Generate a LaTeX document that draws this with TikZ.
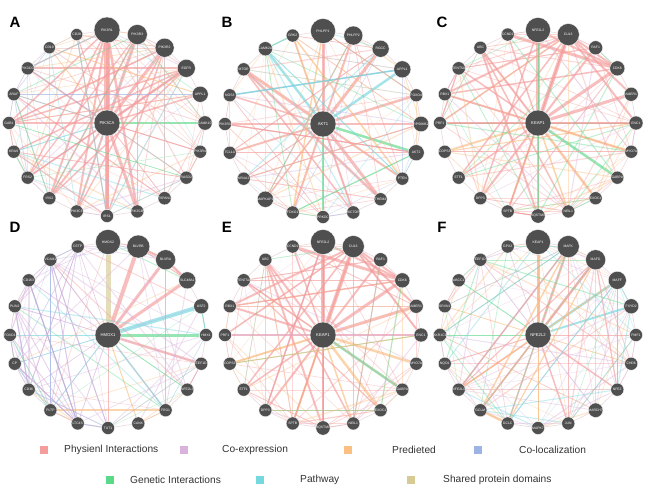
\documentclass[tikz,border=0pt]{standalone}
\usepackage{fontspec}
\setmainfont{Liberation Sans}
\usetikzlibrary{positioning, backgrounds}

\definecolor{phys}{HTML}{F59C9C}
\definecolor{coexp}{HTML}{D9B3DC}
\definecolor{pred}{HTML}{FBBF82}
\definecolor{coloc}{HTML}{9CB3E3}
\definecolor{genet}{HTML}{5BD98A}
\definecolor{pathw}{HTML}{74D8DE}
\definecolor{shared}{HTML}{D8CA95}
\definecolor{nodegray}{HTML}{4F4F4F}
\definecolor{ringgray}{HTML}{EAD9DD}

\pgfmathdeclarerandomlist{palA}{{phys}{phys}{phys}{phys}{pathw}{pathw}{genet}{pred}{pred}{coloc}{coexp}}
\pgfmathdeclarerandomlist{palB}{{phys}{phys}{phys}{pred}{pred}{pathw}{genet}{coexp}{coloc}}
\pgfmathdeclarerandomlist{palC}{{phys}{phys}{phys}{phys}{phys}{pred}{pred}{genet}{coexp}}
\pgfmathdeclarerandomlist{palD}{{coexp}{coexp}{coexp}{coexp}{coloc}{pathw}{genet}{phys}{pred}}
\pgfmathdeclarerandomlist{palDl}{{coexp}{coexp}{coexp}{coloc}}
\pgfmathdeclarerandomlist{palF}{{coexp}{coexp}{phys}{phys}{pred}{pred}{genet}{pathw}}

% ring of genes round a hub node
\newcommand\genering[2]{%
  \foreach \n/\s/\c/\w [count=\i from 0] in {#2} {
    \node[gene, minimum size=\s pt] (#1\i) at ([shift={({98*cos(-90+18*\i)},{93*sin(-90+18*\i)})}]#1c) {\n};
    \begin{scope}[on background layer]
      \draw[hubline, draw=\c, line width=\w pt] (#1c) -- (#1\i);
    \end{scope}
  }
  \begin{scope}[on background layer]
    \foreach \i in {0,...,19} {
      \pgfmathtruncatemacro\j{mod(\i+1,20)}
      \draw[ringline] (#1\i) -- (#1\j);
    }
  \end{scope}}

% strong links between ring genes
\newcommand\heavy[2]{%
  \begin{scope}[on background layer]
    \foreach \a/\b/\c/\w in {#2}
      \draw[hubline, draw=\c, line width=\w pt] (#1\a) -- (#1\b);
  \end{scope}}

% faint mesh: prefix, palette, count, seed, lo, hi
\newcommand\mesh[6]{%
  \begin{scope}[on background layer]
    \pgfmathsetseed{#4}
    \foreach \k in {1,...,#3} {
      \pgfmathtruncatemacro\ia{random(#5,#6)}
      \pgfmathtruncatemacro\ib{#5+mod(\ia-#5+random(1,#6-#5),#6-#5+1)}
      \pgfmathsetmacro\lw{0.3+0.9*rnd}
      \pgfmathrandomitem\cc{#2}
      \draw[meshline, draw=\cc, line width=\lw pt] (#1\ia) -- (#1\ib);
    }
  \end{scope}}

\tikzset{
  gene/.style={circle, draw=white, line width=0.3pt, fill=nodegray, text=white,
    inner sep=0pt, font=\fontsize{3.4}{3.4}\selectfont},
  hub/.style={gene, minimum size=26pt, font=\fontsize{4.2}{4.2}\selectfont},
  hubline/.style={draw opacity=0.65},
  meshline/.style={draw opacity=0.4},
  ringline/.style={draw=ringgray, line width=0.6pt},
  panel/.style={font=\bfseries\fontsize{15}{15}\selectfont, inner sep=0pt},
  legsq/.style={minimum size=8pt, inner sep=0pt},
  legtxt/.style={anchor=west, inner sep=0pt, text=black!80, font=\fontsize{10.2}{12}\selectfont},
}

\begin{document}
\begin{tikzpicture}[x=1pt, y=-1pt]
    \useasboundingbox (0,0) rectangle (654,495);
    \begin{scope}[on background layer]
      \fill[white] (0,0) rectangle (654,495);
    \end{scope}

    % A
    \node[panel] (labA) at (15,22) {A};
    \node[hub] (Ac) at (107,123) {PIK3CA};
    \genering{A}{PIK3R1/26/phys/6, PIK3R3/20/phys/3, PIK3R2/19/phys/3, EGFR/18/phys/2.5,
      APPL1/16/phys/1.5, CAMK1D/14/genet/1.5, PIK3R4/13/phys/1, RASD2/13/pred/0.8,
      TSPAN1/13/phys/0.8, PIK3CB/13/phys/3, IRS1/13/phys/3.5, PIK3C3/13/phys/2,
      IRS2/13/phys/2, FRS2/13/phys/1.5, KRAS/13/pathw/1, GAB1/13/phys/1.5,
      ARAF/13/pathw/0.8, PIK3CG/13/phys/1.5, CD19/12/pred/0.8, CD28/12/phys/1}
    \heavy{A}{0/10/phys/3, 0/9/phys/2.5, 0/11/phys/2, 0/12/phys/2, 0/13/phys/1.5,
      0/15/phys/1.5, 0/17/phys/1.2, 1/12/phys/1.5, 1/9/phys/1.5, 1/13/phys/1.2,
      2/15/phys/1.5, 2/11/phys/1.5, 2/10/phys/1.5, 3/17/phys/2, 3/15/phys/1.5,
      3/14/phys/1.5, 3/13/phys/1.2, 3/12/phys/1.5, 4/16/coloc/1, 4/15/phys/1,
      19/10/pathw/1, 18/4/pred/1}
    \mesh{A}{palA}{90}{11}{0}{19}

    % B
    \node[panel] (labB) at (227,22) {B};
    \node[hub] (Bc) at (323,124) {AKT1};
    \genering{B}{PHLPP1/25/phys/3, PHLPP2/19/phys/2, RGCC/17/phys/3, APPL1/17/pathw/2.5,
      FOXO4/13/phys/2.5, RPS6KB2/13/phys/2.5, AKT2/16/genet/2.5, PTEN/13/phys/2,
      THEM4/13/phys/3, RICTOR/13/phys/2, PRKDC/13/genet/2, FOXO1/13/phys/2,
      MAPKAP1/13/phys/1.5, NR4A1/13/phys/1, TCL1A/13/phys/2, PIK3R3/13/phys/2.5,
      NOS3/13/phys/1.5, MTOR/13/phys/3, CAMK2A/13/pathw/2.5, GRK2/13/pred/2}
    \heavy{B}{17/8/phys/2.5, 17/9/phys/1.5, 19/7/pred/1.5, 0/11/pred/1.5, 1/12/pred/1,
      14/6/phys/1.5, 15/6/phys/1.2, 16/3/coloc/1.2, 18/7/pathw/1, 3/16/pathw/1.5,
      5/13/phys/1, 2/14/phys/1, 6/11/genet/1.2}
    \mesh{B}{palB}{80}{23}{0}{19}

    % C
    \node[panel] (labC) at (442,22) {C};
    \node[hub] (Cc) at (538,123) {KEAP1};
    \genering{C}{NFE2L2/25/phys/4, CUL3/22/phys/4, RAF1/14/phys/2, CDK6/15/phys/3,
      AMER1/14/phys/3, ENC1/14/phys/2.5, MYO7A/13/pred/2.5, GABPA/13/genet/2.5,
      EXOC1/13/pred/2.5, NEIL1/13/pred/1.5, SQSTM1/13/phys/2.5, SPTB/13/pred/2,
      DPP3/13/phys/2, ETF1/13/phys/1.5, COPS3/13/pred/2, PRF1/13/phys/2,
      RBX1/13/phys/2, TENT5A/13/phys/1.5, UBC/13/phys/2, CCND1/13/phys/1.5}
    \heavy{C}{19/3/phys/3, 0/3/phys/2, 1/3/phys/2, 1/4/phys/2, 1/5/phys/2, 1/16/phys/2,
      1/15/phys/1.5, 18/10/phys/2, 18/9/phys/1.5, 0/12/phys/1.5, 16/3/phys/1.5,
      17/2/phys/1, 13/1/phys/1.5, 14/5/pred/1, 0/10/genet/1, 1/11/phys/1.5}
    \mesh{C}{palC}{80}{37}{0}{19}

    % D
    \node[panel] (labD) at (15,227) {D};
    \node[hub] (Dc) at (108,335) {HMOX1};
    \genering{D}{HMOX2/25/shared/5, BLVRB/23/phys/4, BLVRA/20/phys/3, SLC48A1/17/phys/3,
      USF2/15/pathw/4, HMX1/13/genet/3, EEF1D/13/phys/2.5, NFE2L2/13/genet/0.8,
      FRG1/13/pathw/1.5, CANX/13/pred/1, TUT1/13/phys/0.8, LTC4S/13/coexp/0.8,
      PLTP/13/pathw/0.8, CD36/13/coexp/0.6, CP/13/pathw/0.6, FOXO1/13/pathw/0.6,
      PLIN2/13/coexp/0.6, CD163/13/coexp/0.8, VCAM1/13/coexp/0.8, CETP/13/coexp/0.6}
    \heavy{D}{1/2/phys/2.5, 2/3/phys/2.5, 1/3/phys/1, 12/8/pred/1.5, 6/7/phys/0.8,
      18/11/coexp/1, 18/10/coexp/1, 17/11/coexp/1, 19/13/coexp/0.8, 18/12/coloc/0.8,
      16/13/coexp/0.8, 4/5/pathw/1}
    \mesh{D}{palD}{60}{41}{0}{19}
    \mesh{D}{palDl}{45}{43}{10}{19}

    % E
    \node[panel] (labE) at (227,227) {E};
    \node[hub] (Ec) at (323,335) {KEAP1};
    \genering{E}{NFE2L2/25/phys/4, CUL3/22/phys/4, RAF1/14/phys/2, CDK6/15/phys/3,
      AMER1/14/phys/3, ENC1/14/phys/2.5, MYO7A/13/pred/2.5, GABPA/13/genet/2.5,
      EXOC1/13/pred/2.5, NEIL1/13/pred/1.5, SQSTM1/13/phys/2.5, SPTB/13/pred/2,
      DPP3/13/phys/2, ETF1/13/phys/1.5, COPS3/13/pred/2, PRF1/13/phys/2,
      RBX1/13/phys/2, TENT5A/13/phys/1.5, UBC/13/phys/2, CCND1/13/phys/1.5}
    \heavy{E}{19/3/phys/3, 0/3/phys/2, 1/3/phys/2, 1/4/phys/2, 1/5/phys/2, 1/16/phys/2,
      1/15/phys/1.5, 18/10/phys/2, 18/9/phys/1.5, 0/12/phys/1.5, 16/3/phys/1.5,
      17/2/phys/1, 13/1/phys/1.5, 14/5/pred/1, 0/10/genet/1, 1/11/phys/1.5}
    \mesh{E}{palC}{80}{53}{0}{19}

    % F
    \node[panel] (labF) at (442,227) {F};
    \node[hub] (Fc) at (538,335) {NFE2L2};
    \genering{F}{KEAP1/25/phys/3, MAFK/22/phys/2.5, MAFG/20/phys/2.5, MAFF/18/pathw/2.5,
      FXYD2/15/pathw/2, PMF1/13/phys/1, CHD6/13/pred/0.8, NFE2/13/phys/1.5,
      MARCH7/13/coexp/0.8, JUN/13/phys/1.5, MAPK7/13/pred/0.8, GCLC/13/phys/1.5,
      GCLM/13/pred/1.5, NFE2L1/13/phys/1.5, NQO1/13/phys/1, AKR1C1/13/genet/0.8,
      SRXN1/13/pred/0.8, ABCC1/13/genet/0.8, EEF1D/13/coexp/0.8, GPX2/13/coexp/0.6}
    \heavy{F}{1/13/phys/1.5, 1/12/pred/1.5, 2/12/phys/1.5, 2/11/pred/1.2, 3/7/phys/1.5,
      2/7/phys/1.2, 1/9/phys/1.2, 3/11/pathw/1, 0/10/pred/1, 12/11/pred/2.5,
      3/13/pred/1.2, 2/13/phys/1}
    \mesh{F}{palF}{90}{67}{0}{19}

    % legend
    \node[legsq, fill=phys] (lg1) at (44,450) {};
    \node[legtxt] (lt1) at (64,450) {Physienl Interactions};
    \node[legsq, fill=coexp] (lg2) at (184,450) {};
    \node[legtxt] (lt2) at (222,450) {Co-expression};
    \node[legsq, fill=pred] (lg3) at (348,450) {};
    \node[legtxt] (lt3) at (392,450) {Predieted};
    \node[legsq, fill=coloc] (lg4) at (478,450) {};
    \node[legtxt] (lt4) at (519,450) {Co-localization};
    \node[legsq, fill=genet] (lg5) at (110,480) {};
    \node[legtxt] (lt5) at (130,480) {Genetic Interactions};
    \node[legsq, fill=pathw] (lg6) at (260,480) {};
    \node[legtxt] (lt6) at (300,480) {Pathway};
    \node[legsq, fill=shared] (lg7) at (411,480) {};
    \node[legtxt] (lt7) at (443,480) {Shared protein domains};
\end{tikzpicture}
\end{document}
